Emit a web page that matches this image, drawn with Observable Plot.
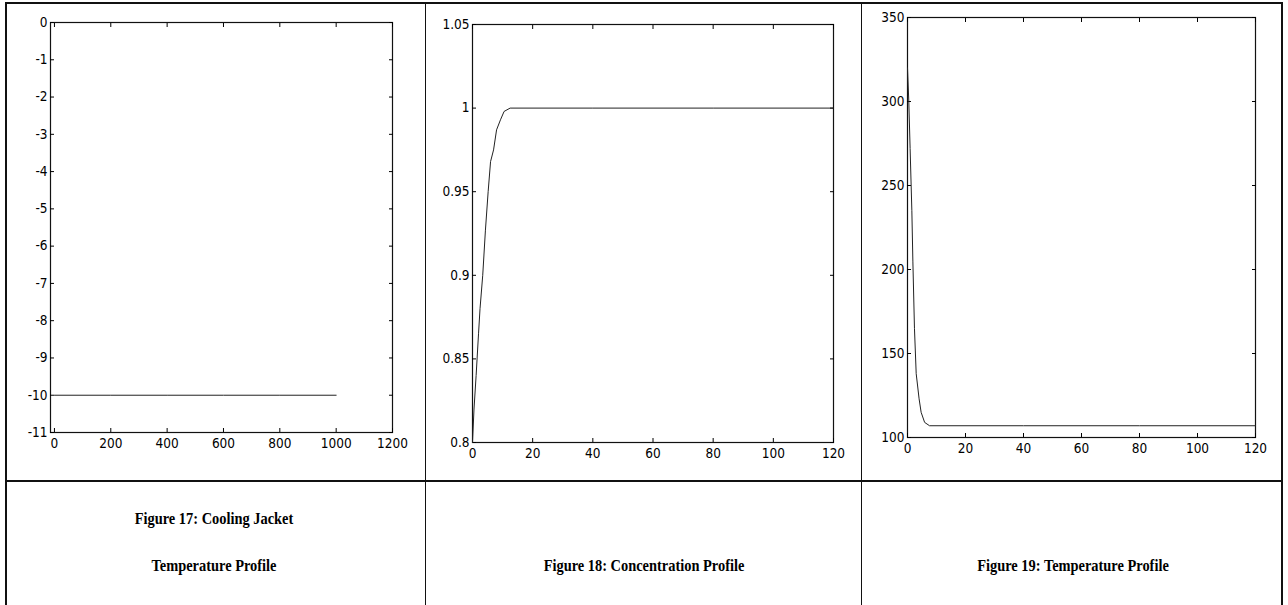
<!DOCTYPE html>
<html>
<head>
<meta charset="utf-8">
<script src="https://cdn.jsdelivr.net/npm/d3@7"></script>
<script src="https://cdn.jsdelivr.net/npm/@observablehq/plot@0.6"></script>
<style>
  html, body { margin: 0; padding: 0; background: #fff; }
  #page { position: relative; width: 1288px; height: 605px; overflow: hidden; background: #fff; }
  .panel { position: absolute; top: 0; }
  .panel text { font-stretch: condensed; }
  .line { position: absolute; background: #111; }
  .cap { position: absolute; font-family: "Liberation Serif", "Times New Roman", serif; font-weight: bold;
         font-size: 16px; color: #000; text-align: center; white-space: nowrap;
         transform: translateX(-50%) scaleX(0.9); transform-origin: 50% 50%; }
</style>
</head>
<body>
<div id="page"></div>
<script>
// ---- Figure 17: cooling jacket temperature ----
const jacketTime = [0, 200, 400, 600, 800, 1000];
const jacketTemp = [-10, -10, -10, -10, -10, -10];
const jacketXTicks = [0, 200, 400, 600, 800, 1000, 1200];
const jacketYTicks = [0, -1, -2, -3, -4, -5, -6, -7, -8, -9, -10, -11];

// ---- Figure 18: concentration ----
const concTime = [0, 0.5, 1.2, 2, 2.5, 3.4, 4.3, 5.2, 6, 7, 8, 9.3, 10.5, 12.5, 40, 80, 120];
const concValue = [0.8, 0.82, 0.84, 0.865, 0.88, 0.9, 0.927, 0.95, 0.968, 0.975, 0.987, 0.993, 0.998, 1.0, 1.0, 1.0, 1.0];
const concXTicks = [0, 20, 40, 60, 80, 100, 120];
const concYTicks = [0.8, 0.85, 0.9, 0.95, 1, 1.05];

// ---- Figure 19: temperature ----
const tempTime = [0, 0.45, 0.9, 1.5, 1.85, 2.4, 3.0, 4.0, 4.7, 5.9, 7.6, 40, 80, 120];
const tempValue = [320, 300, 272, 235, 205, 165, 138, 123, 115, 109, 107, 107, 107, 107];
const tempXTicks = [0, 20, 40, 60, 80, 100, 120];
const tempYTicks = [100, 150, 200, 250, 300, 350];

const captions = [
  {text: "Figure 17: Cooling Jacket", x: 214, y: 520},
  {text: "Temperature Profile", x: 214, y: 567},
  {text: "Figure 18: Concentration Profile", x: 644, y: 567},
  {text: "Figure 19: Temperature Profile", x: 1073, y: 567}
];

const page = document.getElementById("page");
const tickFont = "'DejaVu Sans Condensed', 'Liberation Sans Narrow', 'DejaVu Sans', sans-serif";
const fmt = d => String(+d.toFixed(2));

function panel({time, values, xDomain, yDomain, xTicks, yTicks, left, width, height, margins}) {
  const data = time.map((t, i) => ({t, v: values[i]}));
  const blank = () => "";
  const chart = Plot.plot({
    width, height,
    marginLeft: margins[0], marginRight: margins[1], marginTop: margins[2], marginBottom: margins[3],
    style: {fontFamily: tickFont, fontSize: "13.5px", color: "#000", background: "transparent", overflow: "visible"},
    x: {domain: xDomain, label: null},
    y: {domain: yDomain, label: null},
    marks: [
      Plot.frame({stroke: "#111", strokeWidth: 1.2}),
      Plot.axisX({anchor: "bottom", ticks: xTicks, tickSize: 0, tickPadding: 6, tickFormat: fmt, label: null}),
      Plot.axisX({anchor: "bottom", ticks: xTicks, tickSize: -4, tickFormat: blank, label: null}),
      Plot.axisX({anchor: "top", ticks: xTicks, tickSize: -4, tickFormat: blank, label: null}),
      Plot.axisY({anchor: "left", ticks: yTicks, tickSize: 0, tickPadding: 3, tickFormat: fmt, label: null}),
      Plot.axisY({anchor: "left", ticks: yTicks, tickSize: -4, tickFormat: blank, label: null}),
      Plot.axisY({anchor: "right", ticks: yTicks, tickSize: -4, tickFormat: blank, label: null}),
      Plot.line(data, {x: "t", y: "v", stroke: "#222", strokeWidth: 1})
    ]
  });
  chart.classList.add("panel");
  chart.style.left = left + "px";
  page.appendChild(chart);
}

panel({time: jacketTime, values: jacketTemp, xDomain: [-14, 1200], yDomain: [-11, 0],
       xTicks: jacketXTicks, yTicks: jacketYTicks, left: 6, width: 420, height: 480, margins: [44, 34, 22, 48]});
panel({time: concTime, values: concValue, xDomain: [0, 120], yDomain: [0.8, 1.05],
       xTicks: concXTicks, yTicks: concYTicks, left: 427, width: 434, height: 480, margins: [45, 28, 24, 38]});
panel({time: tempTime, values: tempValue, xDomain: [0, 120], yDomain: [100, 350],
       xTicks: tempXTicks, yTicks: tempYTicks, left: 863, width: 418, height: 480, margins: [44, 26, 17, 43]});

// table rules
function rule(x, y, w, h) {
  const d = document.createElement("div");
  d.className = "line";
  Object.assign(d.style, {left: x + "px", top: y + "px", width: w + "px", height: h + "px"});
  page.appendChild(d);
}
rule(5, 2, 1278, 2);     // top
rule(5, 2, 2, 603);      // left
rule(1281, 2, 2, 603);   // right
rule(425, 2, 1, 603);    // column 1|2
rule(861, 2, 1, 603);    // column 2|3
rule(5, 480, 1278, 2);   // row divider

for (const c of captions) {
  const d = document.createElement("div");
  d.className = "cap";
  d.textContent = c.text;
  d.style.left = c.x + "px";
  d.style.top = (c.y - 10) + "px";
  page.appendChild(d);
}
</script>
</body>
</html>
